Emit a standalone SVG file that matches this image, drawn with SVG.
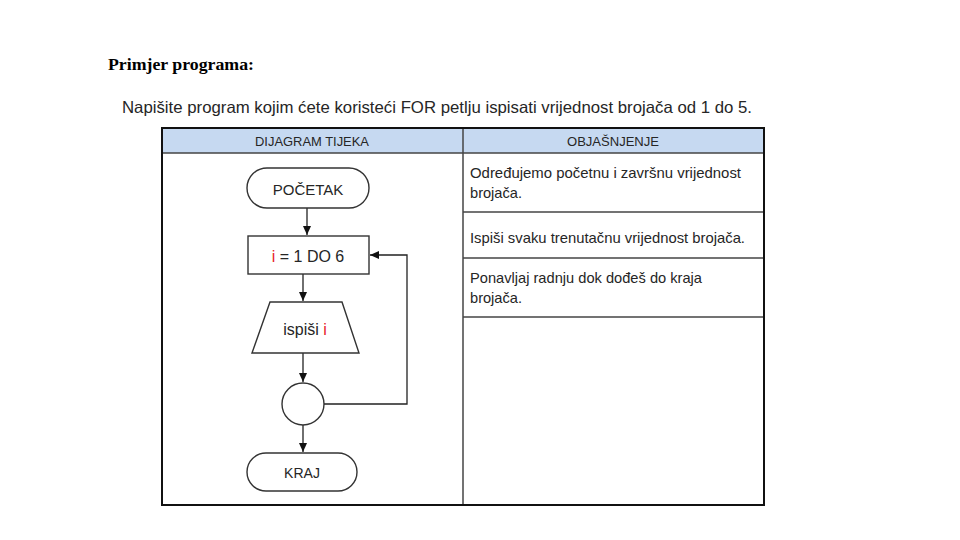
<svg xmlns="http://www.w3.org/2000/svg" width="960" height="540" viewBox="0 0 960 540">
<style>
.t{font-family:"Liberation Sans",Arial,sans-serif;fill:#262626}
.shape{fill:#fff;stroke:#333;stroke-width:1.4}
.conn{fill:none;stroke:#222;stroke-width:1.3}
.grid{stroke:#444;stroke-width:1.5;fill:none}
.red{fill:#e8242a}
</style>
<defs>
<marker id="ah" markerWidth="10" markerHeight="10" refX="9" refY="5" orient="auto" markerUnits="userSpaceOnUse">
<path d="M0,1 L9,5 L0,9 Z" fill="#111"/>
</marker>
</defs>
<rect width="960" height="540" fill="#fff"/>
<text x="108" y="70" font-family="'Liberation Serif','Times New Roman',serif" font-weight="bold" font-size="17" fill="#000" textLength="146" lengthAdjust="spacingAndGlyphs">Primjer programa:</text>
<text class="t" x="122" y="113" font-size="16.5" textLength="630" lengthAdjust="spacingAndGlyphs">Napišite program kojim ćete koristeći FOR petlju ispisati vrijednost brojača od 1 do 5.</text>
<g id="table">
<rect x="162" y="128" width="602" height="25" fill="#c6d9f1"/>
<line class="grid" x1="162" y1="153" x2="764" y2="153"/>
<line class="grid" x1="463" y1="128" x2="463" y2="505"/>
<line class="grid" x1="463" y1="212" x2="764" y2="212"/>
<line class="grid" x1="463" y1="258" x2="764" y2="258"/>
<line class="grid" x1="463" y1="317" x2="764" y2="317"/>
<rect x="162" y="128" width="602" height="377" fill="none" stroke="#111" stroke-width="2"/>
<text class="t" x="312" y="146" font-size="13.5" text-anchor="middle" textLength="114" lengthAdjust="spacingAndGlyphs">DIJAGRAM TIJEKA</text>
<text class="t" x="613" y="146" font-size="13.5" text-anchor="middle" textLength="92" lengthAdjust="spacingAndGlyphs">OBJAŠNJENJE</text>
<text class="t" x="470" y="178" font-size="14.5" textLength="271" lengthAdjust="spacingAndGlyphs">Određujemo početnu i završnu vrijednost</text>
<text class="t" x="470" y="198" font-size="14.5" textLength="52" lengthAdjust="spacingAndGlyphs">brojača.</text>
<text class="t" x="470" y="243" font-size="14.5" textLength="275" lengthAdjust="spacingAndGlyphs">Ispiši svaku trenutačnu vrijednost brojača.</text>
<text class="t" x="470" y="283" font-size="14.5" textLength="232" lengthAdjust="spacingAndGlyphs">Ponavljaj radnju dok dođeš do kraja</text>
<text class="t" x="470" y="303" font-size="14.5" textLength="52" lengthAdjust="spacingAndGlyphs">brojača.</text>
</g>
<g id="connectors">
<line class="conn" x1="307" y1="208" x2="307" y2="235" marker-end="url(#ah)"/>
<line class="conn" x1="303" y1="274" x2="303" y2="301" marker-end="url(#ah)"/>
<line class="conn" x1="303" y1="353" x2="303" y2="382" marker-end="url(#ah)"/>
<line class="conn" x1="303" y1="425" x2="303" y2="452" marker-end="url(#ah)"/>
<polyline class="conn" points="324,404 407,404 407,255 370,255" marker-end="url(#ah)"/>
</g>
<g id="start">
<rect class="shape" x="247" y="168" width="122" height="40" rx="20"/>
<text class="t" x="308" y="195" font-size="15" text-anchor="middle">POČETAK</text>
</g>
<g id="loop">
<rect class="shape" x="248" y="236" width="121" height="38"/>
<text class="t" x="308" y="262" font-size="16" text-anchor="middle"><tspan class="red">i</tspan> = 1 DO 6</text>
</g>
<g id="output">
<polygon class="shape" points="270,302 342,302 359,353 252,353"/>
<text class="t" x="305" y="335" font-size="16" text-anchor="middle">ispiši <tspan class="red">i</tspan></text>
</g>
<g id="connector">
<circle class="shape" cx="303" cy="404" r="21"/>
</g>
<g id="end">
<rect class="shape" x="247" y="453" width="110" height="38" rx="19"/>
<text class="t" x="302" y="478" font-size="14" text-anchor="middle">KRAJ</text>
</g>
</svg>
